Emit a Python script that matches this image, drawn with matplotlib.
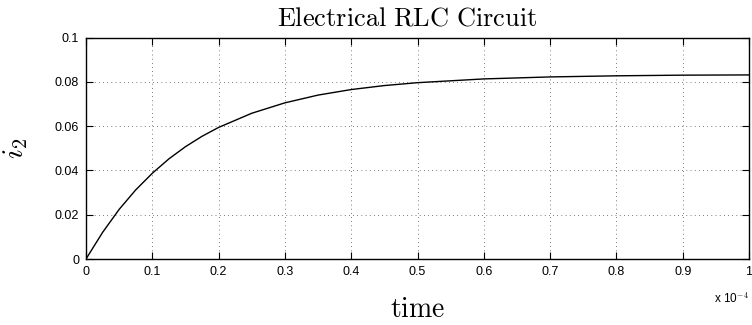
import numpy as np
import matplotlib.pyplot as plt
from matplotlib.ticker import FuncFormatter

plt.rcParams['font.family'] = ['Liberation Sans', 'DejaVu Sans']
plt.rcParams['mathtext.fontset'] = 'cm'

# current i2 (time in seconds)
time = np.array([0, 0.025, 0.05, 0.075, 0.1, 0.125, 0.15, 0.175, 0.2, 0.25,
                 0.3, 0.35, 0.4, 0.45, 0.5, 0.6, 0.7, 0.8, 0.9, 1.0]) * 1e-4
i2 = np.array([0, 0.0120, 0.0224, 0.0312, 0.0387, 0.0452, 0.0507, 0.0554,
               0.0594, 0.0658, 0.0705, 0.0740, 0.0765, 0.0783, 0.0796,
               0.0813, 0.0822, 0.0827, 0.0830, 0.0831])

xticks = np.arange(0, 1.01, 0.1) * 1e-4
yticks = [0, 0.02, 0.04, 0.06, 0.08, 0.1]

fig = plt.figure(figsize=(7.52, 3.25), dpi=100)
ax = fig.add_axes([86 / 752, 1 - 259 / 325, (749 - 86) / 752, (259 - 37.5) / 325])
ax.plot(time, i2, color='black', lw=1.0)

ax.set_xlim(0, 1e-4)
ax.set_ylim(0, 0.1)
ax.set_xticks(xticks)
ax.set_yticks(yticks)
ax.xaxis.set_major_formatter(FuncFormatter(lambda v, p: '%g' % round(v * 1e4, 3)))
ax.yaxis.set_major_formatter(FuncFormatter(lambda v, p: '%g' % round(v, 3)))
ax.tick_params(direction='in', length=5, width=0.8, top=True, right=True,
               labelsize=9, pad=5)
for s in ax.spines.values():
    s.set_linewidth(1.0)
ax.grid(True, color='black', linestyle=(0, (1, 5)), lw=0.5)

ax.set_title(r'$\mathrm{Electrical\ RLC\ Circuit}$', fontsize=19, pad=9, x=0.484)
ax.set_xlabel(r'$\mathrm{time}$', fontsize=20, labelpad=14)
ax.set_ylabel(r'$i_2$', fontsize=21, labelpad=18)
ax.text(1.0, -0.175, r'x 10$^{-4}$', transform=ax.transAxes, ha='right',
        va='center', fontsize=8.5)

fig.savefig('out.png', dpi=100)
